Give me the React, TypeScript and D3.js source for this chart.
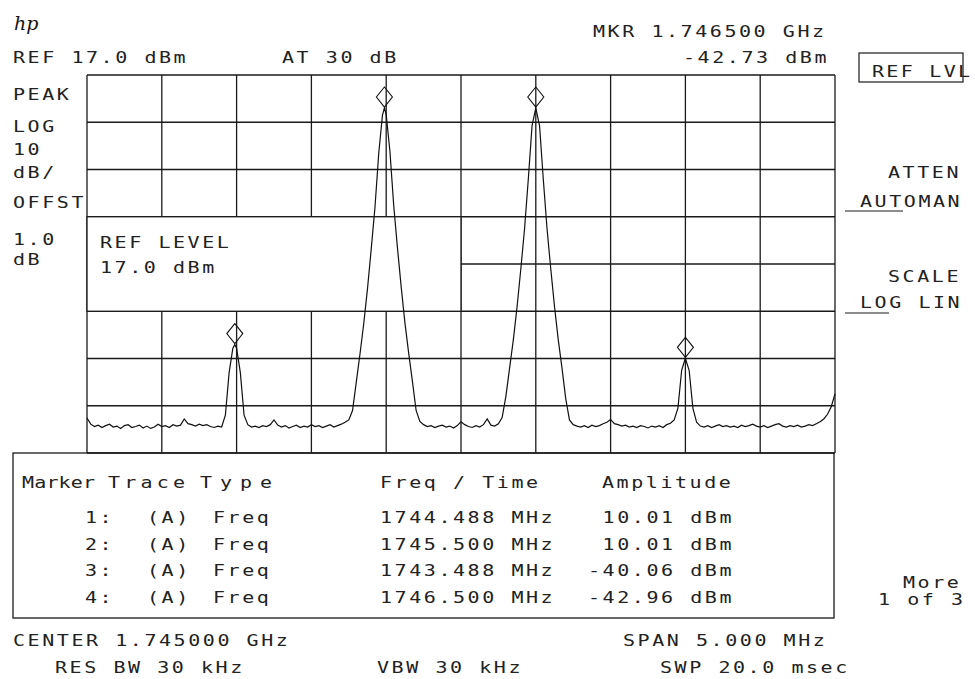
import React from 'react';
import * as d3 from 'd3';

// analyzer settings
const REF_DBM = 17;
const DB_PER_DIV = 10;
const V_DIVS = 8;
const H_DIVS = 10;
const CENTER_MHZ = 1745;
const SPAN_MHZ = 5;

// sweep trace, dBm, evenly spaced over the span (201 points)
const TRACE_DBM = [
  -55.6, -56.9, -57.4, -57.1, -57.6, -57.2, -56.9, -57.5, -57.3, -57.8,
  -57.2, -57.0, -57.6, -57.4, -57.1, -57.7, -57.3, -57.8, -57.5, -56.9,
  -57.4, -57.2, -57.6, -57.0, -57.3, -57.1, -55.8, -56.8, -57.0, -57.3,
  -56.9, -57.2, -57.0, -57.4, -57.6, -57.3, -57.5, -55.0, -46.0, -40.8,
  -40.8, -46.0, -55.0, -57.0, -57.5, -57.3, -57.6, -57.2, -57.4, -57.0,
  -56.0, -57.1, -57.5, -57.2, -57.7, -57.4, -57.1, -57.6, -57.3, -57.5,
  -57.0, -57.4, -57.2, -57.6, -57.3, -57.0, -57.5, -57.2, -56.9, -56.5,
  -56.0, -54.0, -48.0, -42.0, -35.6, -28.2, -19.8, -11.0, 0.4, 8.5,
  8.6, 0.8, -10.5, -19.5, -27.8, -35.4, -41.8, -47.8, -54.0, -56.3,
  -57.0, -57.4, -57.2, -57.6, -57.3, -57.1, -57.5, -57.3, -57.7, -57.2,
  -56.4, -57.0, -57.4, -57.6, -57.2, -57.5, -57.0, -55.8, -57.1, -57.3,
  -56.8, -55.5, -51.0, -45.0, -39.0, -32.0, -24.0, -15.5, -5.0, 6.3,
  10.0, 6.3, -5.0, -15.5, -24.0, -32.0, -39.0, -45.0, -51.5, -56.0,
  -57.0, -57.3, -57.5, -57.2, -57.6, -57.1, -57.4, -57.2, -56.8, -56.5,
  -55.9, -56.8, -57.0, -57.3, -57.1, -57.5, -57.3, -57.6, -57.2, -57.4,
  -57.7, -57.3, -57.5, -57.2, -57.6, -57.0, -56.7, -56.0, -53.5, -45.5,
  -42.9, -45.5, -53.5, -56.5, -57.3, -57.5, -57.2, -57.6, -57.3, -57.0,
  -57.4, -57.2, -57.5, -57.3, -57.6, -57.1, -57.4, -57.2, -56.9, -57.3,
  -57.5, -57.2, -57.6, -57.3, -57.0, -56.8, -57.3, -57.5, -57.2, -57.4,
  -57.1, -57.5, -57.3, -57.0, -57.2, -56.8, -56.4, -55.8, -54.8, -53.2,
  -50.5,
];

const MARKER_IDS = ['1', '2', '3', '4'];
const MARKER_FREQ = [1744.488, 1745.5, 1743.488, 1746.5];
const MARKER_AMP = [10.01, 10.01, -40.06, -42.96];

const MKR_READOUT = ['MKR 1.746500 GHz', '-42.73 dBm'];

const FONT = '"DejaVu Sans Mono", "Liberation Mono", monospace';
const FS = 16;
const SX = 1.25;
const PITCH = 14.6;

type LabelProps = { x: number; y: number; t: string; w?: number };

const Label = ({ x, y, t, w }: LabelProps) => (
  <text
    transform={`translate(${x},${y}) scale(${SX},1)`}
    fontSize={FS}
    fill="#222"
    textLength={w ? w / SX : undefined}
    lengthAdjust={w ? 'spacing' : undefined}
    style={{ whiteSpace: 'pre', letterSpacing: w ? 0 : `${PITCH / SX - FS * 0.602}px` }}
  >
    {t}
  </text>
);

export default function App() {
  const left = 87, right = 835, top = 75, bottom = 453;

  const x = d3.scaleLinear()
    .domain([CENTER_MHZ - SPAN_MHZ / 2, CENTER_MHZ + SPAN_MHZ / 2])
    .range([left, right]);
  const y = d3.scaleLinear()
    .domain([REF_DBM, REF_DBM - DB_PER_DIV * V_DIVS])
    .range([top, bottom]);

  const fStep = SPAN_MHZ / (TRACE_DBM.length - 1);
  const pts: [number, number][] = TRACE_DBM.map((v, i) => [x.domain()[0] + i * fStep, v]);
  MARKER_FREQ.forEach((f, i) => pts.push([f, MARKER_AMP[i]]));
  pts.sort((a, b) => a[0] - b[0]);

  const line = d3.line<[number, number]>()
    .x(d => x(d[0]))
    .y(d => y(d[1]));

  const vGrid = d3.range(H_DIVS + 1).map(i => x.domain()[0] + (i * SPAN_MHZ) / H_DIVS);
  const hGrid = d3.range(V_DIVS + 1).map(i => REF_DBM - i * DB_PER_DIV);

  // the REF LEVEL entry box sits over the grid, 3rd to 5th div, left half
  const boxX0 = x(vGrid[0]), boxX1 = x(vGrid[5]);
  const boxY0 = y(hGrid[3]), boxY1 = y(hGrid[5]);

  const diamond = (cx: number, cy: number) =>
    `M${cx},${cy - 21}L${cx + 8},${cy - 11}L${cx},${cy - 1}L${cx - 8},${cy - 11}Z`;

  const stroke = '#1a1a1a';

  return (
    <svg
      width={975}
      height={679}
      style={{ position: 'absolute', left: 0, top: 0, background: '#fff' }}
      fontFamily={FONT}
    >
      <rect width={975} height={679} fill="#fff" />

      {/* hp logo */}
      <text x={14} y={30} fontFamily='"DejaVu Serif", serif' fontStyle="italic" fontSize={19} fill="#111">hp</text>

      <Label x={13} y={63} t="REF 17.0 dBm" />
      <Label x={282} y={63} t="AT 30 dB" />
      <Label x={593} y={37} t={MKR_READOUT[0]} />
      <Label x={683} y={63} t={MKR_READOUT[1]} />

      {/* grid */}
      {vGrid.map(f => (
        <line key={'v' + f} x1={x(f)} x2={x(f)} y1={top} y2={bottom} stroke={stroke} strokeWidth={1.3} />
      ))}
      {hGrid.map(v => (
        <line key={'h' + v} x1={left} x2={right} y1={y(v)} y2={y(v)} stroke={stroke} strokeWidth={1.3} />
      ))}

      <rect x={boxX0} y={boxY0} width={boxX1 - boxX0} height={boxY1 - boxY0} fill="#fff" stroke={stroke} strokeWidth={1.3} />
      <Label x={100} y={248} t="REF LEVEL" />
      <Label x={100} y={273} t="17.0 dBm" />

      {/* trace */}
      <path d={line(pts) ?? ''} fill="none" stroke="#111" strokeWidth={1.2} />

      {MARKER_FREQ.map((f, i) => (
        <path key={'m' + i} d={diamond(x(f), y(MARKER_AMP[i]))} fill="none" stroke="#111" strokeWidth={1.1} />
      ))}

      {/* left annotations */}
      <Label x={13} y={100} t="PEAK" />
      <Label x={13} y={132} t="LOG" />
      <Label x={13} y={155} t="10" />
      <Label x={13} y={178} t="dB/" />
      <Label x={13} y={208} t="OFFST" />
      <Label x={13} y={245} t="1.0" />
      <Label x={13} y={265} t="dB" />

      {/* softkeys */}
      <rect x={859} y={53} width={104} height={29} fill="none" stroke={stroke} strokeWidth={1.2} />
      <Label x={872} y={77} t="REF LVL" w={98} />
      <Label x={888} y={178} t="ATTEN" />
      <Label x={860} y={207} t="AUTOMAN" />
      <line x1={845} x2={903} y1={211} y2={211} stroke={stroke} strokeWidth={1.2} />
      <Label x={888} y={282} t="SCALE" />
      <Label x={860} y={308} t="LOG LIN" />
      <line x1={845} x2={889} y1={313} y2={313} stroke={stroke} strokeWidth={1.2} />
      <Label x={903} y={588} t="More" />
      <Label x={878} y={605} t="1 of 3" />

      {/* marker table */}
      <rect x={13} y={453} width={821} height={165} fill="none" stroke={stroke} strokeWidth={1.3} />
      <Label x={22} y={488} t="Marker" w={73} />
      <Label x={108} y={488} t="Trace" w={77} />
      <Label x={200} y={488} t="Type" w={72} />
      <Label x={380} y={488} t="Freq / Time" />
      <Label x={602} y={488} t="Amplitude" />
      {MARKER_IDS.map((id, i) => {
        const ry = 523 + i * 26.5;
        return (
          <g key={'r' + id}>
            <Label x={85} y={ry} t={`${id}:`} />
            <Label x={147} y={ry} t="(A)" />
            <Label x={213} y={ry} t="Freq" />
            <Label x={380} y={ry} t={`${MARKER_FREQ[i].toFixed(3)} MHz`} />
            <Label x={588} y={ry} t={`${MARKER_AMP[i].toFixed(2).padStart(6)} dBm`} />
          </g>
        );
      })}

      {/* bottom annotations */}
      <Label x={13} y={646} t={`CENTER ${(CENTER_MHZ / 1000).toFixed(6)} GHz`} />
      <Label x={623} y={646} t={`SPAN ${SPAN_MHZ.toFixed(3)} MHz`} />
      <Label x={55} y={673} t="RES BW 30 kHz" />
      <Label x={377} y={673} t="VBW 30 kHz" />
      <Label x={660} y={673} t="SWP 20.0 msec" />
    </svg>
  );
}
